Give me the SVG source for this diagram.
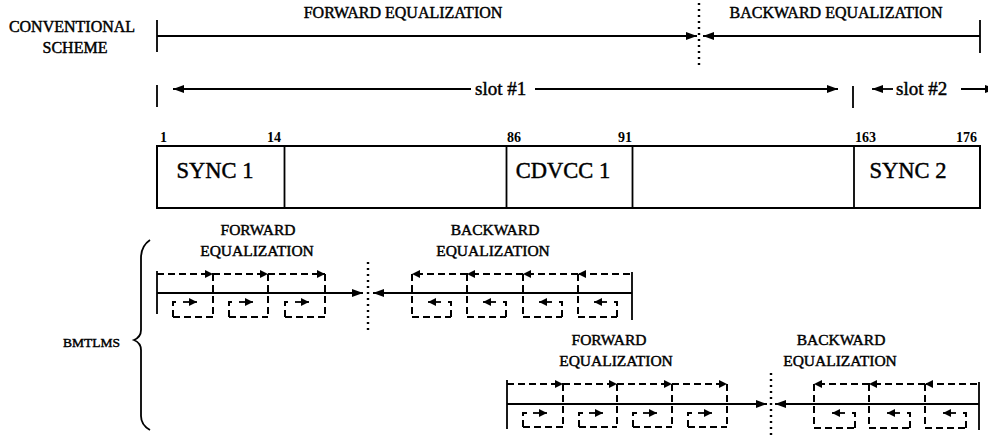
<svg xmlns="http://www.w3.org/2000/svg" width="988" height="438" viewBox="0 0 988 438">
<style>
.t{font-family:"Liberation Serif","Times New Roman",serif;fill:#000;stroke:#000;stroke-width:0.45}
.n{font-family:"Liberation Serif","Times New Roman",serif;font-weight:bold;font-size:14px;fill:#000}
.s{fill:none;stroke:#000;stroke-width:1.8}
.d{fill:none;stroke:#000;stroke-width:2;stroke-dasharray:7 4}
.o{fill:none;stroke:#000;stroke-width:2.4;stroke-dasharray:2 4}
.box{fill:#fff;stroke:#000;stroke-width:2}
</style>
<defs>
<marker id="A" markerUnits="userSpaceOnUse" viewBox="0 0 11 8" refX="11" refY="4" markerWidth="11" markerHeight="8" orient="auto"><path d="M0,0 L11,4 L0,8 Z" fill="#000"/></marker>
<marker id="a" markerUnits="userSpaceOnUse" viewBox="0 0 8 8" refX="8" refY="4" markerWidth="8" markerHeight="8" orient="auto"><path d="M0,0 L8,4 L0,8 Z" fill="#000"/></marker>
</defs>
<rect width="988" height="438" fill="#fff"/>

<g id="conventional">
<text class="t" x="72" y="32" font-size="16" text-anchor="middle">CONVENTIONAL</text>
<text class="t" x="75" y="53" font-size="16" text-anchor="middle">SCHEME</text>
<text class="t" x="403" y="18" font-size="16" text-anchor="middle">FORWARD EQUALIZATION</text>
<text class="t" x="836" y="18" font-size="16" text-anchor="middle">BACKWARD EQUALIZATION</text>
</g>

<g id="slots">
<text class="t" x="475" y="95" font-size="19">slot #1</text>
<text class="t" x="896" y="95" font-size="19">slot #2</text>
</g>

<g id="frame">
<rect class="box" x="157" y="146" width="823" height="62"/>
<path class="s" d="M284.5,146 V208 M506.5,146 V208 M632.5,146 V208 M854,146 V208" stroke-width="2"/>
<text class="n" x="160" y="142">1</text>
<text class="n" x="281" y="142" text-anchor="end">14</text>
<text class="n" x="507" y="142">86</text>
<text class="n" x="632" y="142" text-anchor="end">91</text>
<text class="n" x="855" y="142">163</text>
<text class="n" x="977" y="142" text-anchor="end">176</text>
<text class="t" x="215" y="178" font-size="22.5" text-anchor="middle">SYNC 1</text>
<text class="t" x="563" y="178" font-size="22.5" text-anchor="middle">CDVCC 1</text>
<text class="t" x="908" y="178" font-size="22.5" text-anchor="middle">SYNC 2</text>
</g>

<g id="bmtlms">
<text class="t" x="63" y="347" font-size="13.5">BMTLMS</text>
<path class="s" d="M150,240 Q141,246 141,258 L141,330 Q141,337 134,340 Q141,343 141,350 L141,416 Q141,425 150,430" stroke-width="1.3"/>
</g>

<g id="block1-labels">
<text class="t" x="258" y="235" font-size="15.5" text-anchor="middle">FORWARD</text>
<text class="t" x="257" y="256" font-size="15.5" text-anchor="middle">EQUALIZATION</text>
<text class="t" x="495" y="235" font-size="15.5" text-anchor="middle">BACKWARD</text>
<text class="t" x="493" y="256" font-size="15.5" text-anchor="middle">EQUALIZATION</text>
</g>

<g id="block2-labels">
<text class="t" x="609" y="345" font-size="15.5" text-anchor="middle">FORWARD</text>
<text class="t" x="616" y="366" font-size="15.5" text-anchor="middle">EQUALIZATION</text>
<text class="t" x="841" y="345" font-size="15.5" text-anchor="middle">BACKWARD</text>
<text class="t" x="840" y="366" font-size="15.5" text-anchor="middle">EQUALIZATION</text>
</g>

<g id="connectors">
<!-- conventional scheme -->
<path class="s" d="M157,20 V52 M980,20 V53"/>
<path class="s" d="M157,36 H697" marker-end="url(#A)"/>
<path class="s" d="M980,36 H703" marker-end="url(#A)"/>
<path class="o" d="M699,3 V68"/>
<!-- slots -->
<path class="s" d="M157,85 V107 M853,86 V108"/>
<path class="s" d="M471,89 H173" marker-end="url(#A)"/>
<path class="s" d="M535,89 H838" marker-end="url(#A)"/>
<path class="s" d="M893,89 H872" marker-end="url(#A)"/>
<path class="s" d="M961,89 H996" marker-end="url(#A)"/>

<!-- block 1 forward -->
<path class="s" d="M157,271 V314"/>
<path class="s" d="M157,293 H363" marker-end="url(#A)"/>
<path class="d" d="M157,274 H213" marker-end="url(#a)"/>
<path class="d" d="M213,274 H268" marker-end="url(#a)"/>
<path class="d" d="M268,274 H325" marker-end="url(#a)"/>
<path class="d" d="M213,274 V317 M268,274 V317 M325,274 V317"/>
<path class="d" d="M173,317 V302 H178 M173,317 H213 M229,317 V302 H234 M229,317 H268 M285,317 V302 H290 M285,317 H325"/>
<path class="s" d="M183,302 H197" marker-end="url(#a)" stroke-width="2"/>
<path class="s" d="M239,302 H253" marker-end="url(#a)" stroke-width="2"/>
<path class="s" d="M295,302 H309" marker-end="url(#a)" stroke-width="2"/>
<path class="o" d="M368,262 V330"/>
<!-- block 1 backward -->
<path class="s" d="M632,293 H373" marker-end="url(#A)"/>
<path class="s" d="M632,272 V320" stroke-width="2"/>
<path class="d" d="M467,274 H412" marker-end="url(#a)"/>
<path class="d" d="M523,274 H467" marker-end="url(#a)"/>
<path class="d" d="M578,274 H523" marker-end="url(#a)"/>
<path class="d" d="M630,274 H578" marker-end="url(#a)"/>
<path class="d" d="M412,274 V317 M467,274 V317 M523,274 V317 M578,274 V317"/>
<path class="d" d="M451,317 V302 H445 M412,317 H451 M506,317 V302 H500 M467,317 H506 M562,317 V302 H556 M523,317 H562 M617,317 V302 H611 M578,317 H617"/>
<path class="s" d="M441,302 H428" marker-end="url(#a)" stroke-width="2"/>
<path class="s" d="M496,302 H483" marker-end="url(#a)" stroke-width="2"/>
<path class="s" d="M552,302 H539" marker-end="url(#a)" stroke-width="2"/>
<path class="s" d="M607,302 H594" marker-end="url(#a)" stroke-width="2"/>

<!-- block 2 forward -->
<path class="s" d="M507,380 V429"/>
<path class="s" d="M507,404 H767" marker-end="url(#A)"/>
<path class="d" d="M507,384 H563" marker-end="url(#a)"/>
<path class="d" d="M563,384 H617" marker-end="url(#a)"/>
<path class="d" d="M617,384 H672" marker-end="url(#a)"/>
<path class="d" d="M672,384 H727" marker-end="url(#a)"/>
<path class="d" d="M563,384 V427 M617,384 V427 M672,384 V427 M727,384 V427"/>
<path class="d" d="M523,427 V413 H528 M523,427 H563 M579,427 V413 H584 M579,427 H617 M633,427 V413 H638 M633,427 H672 M688,427 V413 H693 M688,427 H727"/>
<path class="s" d="M533,413 H547" marker-end="url(#a)" stroke-width="2"/>
<path class="s" d="M589,413 H603" marker-end="url(#a)" stroke-width="2"/>
<path class="s" d="M643,413 H657" marker-end="url(#a)" stroke-width="2"/>
<path class="s" d="M698,413 H712" marker-end="url(#a)" stroke-width="2"/>
<path class="o" d="M771,373 V438"/>
<!-- block 2 backward -->
<path class="s" d="M979,404 H775" marker-end="url(#A)"/>
<path class="s" d="M979,382 V430" stroke-width="2"/>
<path class="d" d="M869,384 H814" marker-end="url(#a)"/>
<path class="d" d="M925,384 H869" marker-end="url(#a)"/>
<path class="d" d="M977,384 H925" marker-end="url(#a)"/>
<path class="d" d="M814,384 V428 M869,384 V428 M925,384 V428"/>
<path class="d" d="M855,428 V413 H849 M814,428 H855 M910,428 V413 H904 M869,428 H910 M966,428 V413 H960 M925,428 H966"/>
<path class="s" d="M845,413 H832" marker-end="url(#a)" stroke-width="2"/>
<path class="s" d="M900,413 H887" marker-end="url(#a)" stroke-width="2"/>
<path class="s" d="M956,413 H943" marker-end="url(#a)" stroke-width="2"/>
</g>
</svg>
